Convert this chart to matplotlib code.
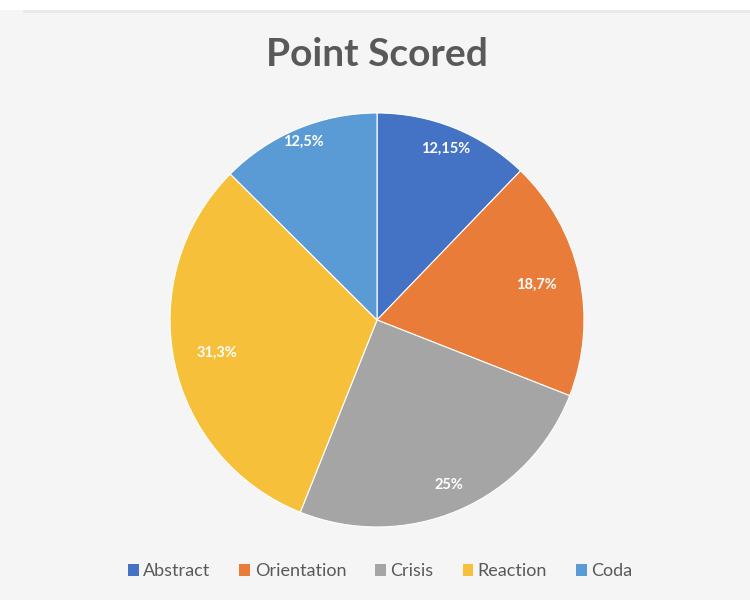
import matplotlib
matplotlib.use("Agg")
import matplotlib.pyplot as plt
import numpy as np
from matplotlib.patches import Rectangle

categories = ["Abstract", "Orientation", "Crisis", "Reaction", "Coda"]
values = [12.15, 18.7, 25, 31.3, 12.5]
labels = ["12,15%", "18,7%", "25%", "31,3%", "12,5%"]
colors = ["#4472C4", "#E97C38", "#A5A5A5", "#F6C03A", "#5B9BD5"]
label_dist = [0.89, 0.79, 0.87, 0.79, 0.93]

plt.rcParams['font.family'] = ['Lato', 'DejaVu Sans']

fig = plt.figure(figsize=(7.5, 6), dpi=100, facecolor="#f5f5f5")
# white strip at top
fig.patches.append(Rectangle((0, 0.983), 1, 0.017, transform=fig.transFigure,
                             facecolor="white", edgecolor="none", zorder=0))
fig.patches.append(Rectangle((0.03, 0.978), 0.97, 0.006, transform=fig.transFigure,
                             facecolor="#eaeaea", edgecolor="none", zorder=0))

ax = fig.add_axes([0.2267, 0.1217, 0.552, 0.69])
ax.set_facecolor("none")

wedges, _ = ax.pie(values, colors=colors, startangle=90, counterclock=False,
                   radius=1, wedgeprops=dict(edgecolor="white", linewidth=0.8))
for w, lab, d in zip(wedges, labels, label_dist):
    ang = np.deg2rad((w.theta1 + w.theta2) / 2)
    ax.text(d * np.cos(ang), d * np.sin(ang), lab, ha="center", va="center",
            color="white", fontsize=10.5, fontweight="bold")
ax.set_xlim(-1, 1)
ax.set_ylim(-1, 1)
ax.set_aspect("equal")
ax.axis("off")

fig.text(0.502, 0.91, "Point Scored", ha="center", va="center",
         fontsize=28, fontweight="bold", color="#595959")

handles = [Rectangle((0, 0), 1, 1, facecolor=c) for c in colors]
fig.legend(handles, categories, loc="center", bbox_to_anchor=(0.507, 0.048),
           ncol=5, frameon=False, fontsize=13, labelcolor="#595959",
           handlelength=0.6, handleheight=0.6, handletextpad=0.25, columnspacing=1.6)

fig.savefig("out.png", dpi=100, facecolor=fig.get_facecolor())
